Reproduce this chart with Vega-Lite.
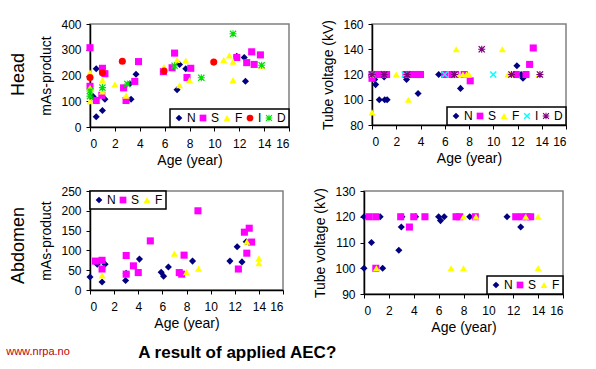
{
  "$schema": "https://vega.github.io/schema/vega-lite/v6.json",
  "padding": {"left": 6, "top": 17, "right": 0, "bottom": 0},
  "background": "white",
  "datasets": {
    "hm": [
      {"series":"N","age":0.25,"value":118},{"series":"N","age":0.5,"value":40},{"series":"N","age":0.5,"value":226},{"series":"N","age":1.0,"value":64},{"series":"N","age":1.2,"value":108},{"series":"N","age":3.2,"value":168},{"series":"N","age":3.3,"value":108},{"series":"N","age":3.7,"value":205},{"series":"N","age":7.0,"value":145},{"series":"N","age":7.2,"value":243},{"series":"N","age":7.7,"value":226},{"series":"N","age":11.8,"value":275},{"series":"N","age":12.4,"value":270},{"series":"N","age":12.5,"value":178},
      {"series":"S","age":0,"value":308},{"series":"S","age":0,"value":158},{"series":"S","age":0.5,"value":103},{"series":"S","age":0.95,"value":123},{"series":"S","age":1.0,"value":228},{"series":"S","age":1.2,"value":207},{"series":"S","age":2.7,"value":152},{"series":"S","age":2.9,"value":103},{"series":"S","age":3.6,"value":177},{"series":"S","age":3.9,"value":254},{"series":"S","age":5.9,"value":215},{"series":"S","age":6.6,"value":230},{"series":"S","age":6.8,"value":287},{"series":"S","age":7.8,"value":192},{"series":"S","age":8.1,"value":228},{"series":"S","age":11.8,"value":270},{"series":"S","age":12.6,"value":250},{"series":"S","age":13.0,"value":292},{"series":"S","age":13.2,"value":243},{"series":"S","age":13.7,"value":280},
      {"series":"F","age":0,"value":211},{"series":"F","age":0,"value":152},{"series":"F","age":0,"value":100},{"series":"F","age":1.0,"value":182},{"series":"F","age":1.0,"value":138},{"series":"F","age":2.0,"value":165},{"series":"F","age":2.9,"value":122},{"series":"F","age":5.95,"value":233},{"series":"F","age":7.0,"value":260},{"series":"F","age":7.2,"value":162},{"series":"F","age":7.7,"value":258},{"series":"F","age":8.0,"value":182},{"series":"F","age":10.75,"value":260},{"series":"F","age":11.2,"value":278},{"series":"F","age":11.5,"value":254},{"series":"F","age":11.5,"value":182},{"series":"F","age":13.8,"value":238},
      {"series":"I","age":0,"value":192},{"series":"I","age":1.0,"value":211},{"series":"I","age":2.6,"value":255},{"series":"I","age":5.95,"value":217},{"series":"I","age":9.95,"value":252},
      {"series":"D","age":0,"value":140},{"series":"D","age":0,"value":120},{"series":"D","age":1.0,"value":153},{"series":"D","age":3.0,"value":167},{"series":"D","age":6.8,"value":238},{"series":"D","age":8.95,"value":191},{"series":"D","age":11.5,"value":362},{"series":"D","age":13.8,"value":240}
    ],
    "hk": [
      {"series":"N","age":0.22,"value":116},{"series":"N","age":0.3,"value":112},{"series":"N","age":0.6,"value":100},{"series":"N","age":1.0,"value":118},{"series":"N","age":1.05,"value":100},{"series":"N","age":1.25,"value":100},{"series":"N","age":2.85,"value":116},{"series":"N","age":3.8,"value":105},{"series":"N","age":5.5,"value":120},{"series":"N","age":7.3,"value":109},{"series":"N","age":11.95,"value":127},{"series":"N","age":12.3,"value":120},{"series":"N","age":12.45,"value":117},
      {"series":"S","age":0,"value":117},{"series":"S","age":0,"value":120},{"series":"S","age":0.3,"value":120},{"series":"S","age":0.6,"value":120},{"series":"S","age":0.9,"value":120},{"series":"S","age":1.2,"value":120},{"series":"S","age":2.8,"value":120},{"series":"S","age":3.05,"value":120},{"series":"S","age":3.3,"value":120},{"series":"S","age":3.6,"value":120},{"series":"S","age":3.85,"value":120},{"series":"S","age":4.0,"value":120},{"series":"S","age":6.0,"value":120},{"series":"S","age":6.6,"value":120},{"series":"S","age":6.9,"value":120},{"series":"S","age":7.6,"value":120},{"series":"S","age":8.1,"value":115},{"series":"S","age":11.9,"value":120},{"series":"S","age":12.7,"value":120},{"series":"S","age":13.0,"value":128},{"series":"S","age":13.3,"value":141},
      {"series":"F","age":0,"value":90},{"series":"F","age":0,"value":120},{"series":"F","age":2.0,"value":120},{"series":"F","age":3.0,"value":100},{"series":"F","age":6.95,"value":140},{"series":"F","age":7.0,"value":120},{"series":"F","age":7.5,"value":120},{"series":"F","age":7.8,"value":120},{"series":"F","age":8.0,"value":120},{"series":"F","age":10.75,"value":140},{"series":"F","age":11.2,"value":120},{"series":"F","age":11.4,"value":120},{"series":"F","age":13.75,"value":120},
      {"series":"I","age":0,"value":120},{"series":"I","age":2.7,"value":120},{"series":"I","age":6.0,"value":120},{"series":"I","age":10.0,"value":120},
      {"series":"D","age":0,"value":120},{"series":"D","age":1.0,"value":120},{"series":"D","age":2.9,"value":120},{"series":"D","age":6.8,"value":120},{"series":"D","age":9.05,"value":140},{"series":"D","age":11.5,"value":120},{"series":"D","age":13.85,"value":120}
    ],
    "am": [
      {"series":"N","age":0,"value":33},{"series":"N","age":0.6,"value":65},{"series":"N","age":1.0,"value":20},{"series":"N","age":1.25,"value":65},{"series":"N","age":2.95,"value":24},{"series":"N","age":3.0,"value":42},{"series":"N","age":4.1,"value":78},{"series":"N","age":5.9,"value":45},{"series":"N","age":6.1,"value":35},{"series":"N","age":6.5,"value":58},{"series":"N","age":8.5,"value":73},{"series":"N","age":11.6,"value":73},{"series":"N","age":12.2,"value":109},{"series":"N","age":12.6,"value":71},{"series":"N","age":12.95,"value":122},
      {"series":"S","age":0.45,"value":73},{"series":"S","age":1.0,"value":75},{"series":"S","age":1.0,"value":53},{"series":"S","age":3.0,"value":87},{"series":"S","age":3.0,"value":40},{"series":"S","age":3.6,"value":61},{"series":"S","age":4.0,"value":44},{"series":"S","age":5.0,"value":124},{"series":"S","age":7.4,"value":44},{"series":"S","age":7.6,"value":40},{"series":"S","age":7.8,"value":88},{"series":"S","age":8.95,"value":200},{"series":"S","age":12.3,"value":53},{"series":"S","age":12.8,"value":146},{"series":"S","age":13.0,"value":93},{"series":"S","age":13.2,"value":156},{"series":"S","age":13.4,"value":121},
      {"series":"F","age":1.0,"value":37},{"series":"F","age":7.0,"value":92},{"series":"F","age":8.0,"value":45},{"series":"F","age":9.0,"value":54},{"series":"F","age":13.0,"value":122},{"series":"F","age":14.0,"value":80},{"series":"F","age":14.0,"value":68}
    ],
    "ak": [
      {"series":"N","age":0,"value":120},{"series":"N","age":0,"value":100},{"series":"N","age":0.6,"value":110},{"series":"N","age":1.3,"value":120},{"series":"N","age":1.5,"value":100},{"series":"N","age":2.8,"value":107},{"series":"N","age":3.0,"value":116},{"series":"N","age":3.05,"value":120},{"series":"N","age":4.15,"value":120},{"series":"N","age":6.0,"value":120},{"series":"N","age":6.15,"value":118.5},{"series":"N","age":6.45,"value":120},{"series":"N","age":8.5,"value":120},{"series":"N","age":11.5,"value":120},{"series":"N","age":12.6,"value":116},
      {"series":"S","age":0.4,"value":120},{"series":"S","age":0.95,"value":120},{"series":"S","age":0.95,"value":100},{"series":"S","age":2.95,"value":120},{"series":"S","age":3.65,"value":116},{"series":"S","age":4.0,"value":120},{"series":"S","age":4.9,"value":120},{"series":"S","age":7.4,"value":120},{"series":"S","age":7.7,"value":120},{"series":"S","age":8.95,"value":120},{"series":"S","age":12.2,"value":120},{"series":"S","age":12.7,"value":120},{"series":"S","age":13.1,"value":120},{"series":"S","age":13.4,"value":120},
      {"series":"F","age":1.0,"value":100},{"series":"F","age":7.0,"value":100},{"series":"F","age":8.0,"value":120},{"series":"F","age":8.0,"value":100},{"series":"F","age":9.0,"value":120},{"series":"F","age":13.0,"value":120},{"series":"F","age":14.0,"value":120},{"series":"F","age":14.0,"value":100}
    ]
  },
  "title": {"text": "www.nrpa.no", "orient": "bottom", "anchor": "start", "frame": "bounds", "fontSize": 11, "fontWeight": "normal", "font": "Liberation Sans", "color": "#C00000", "dx": -4, "dy": -15, "offset": 0},
  "spacing": 16,
  "vconcat": [
    {
      "title": {"text": "Head", "orient": "left", "anchor": "middle", "fontSize": 18, "fontWeight": "normal", "font": "Liberation Sans", "color": "black", "offset": 11, "dx": 18},
      "spacing": 30,
      "hconcat": [
        {
          "data": {"name": "hm"},
          "width": 199, "height": 103,
          "mark": {"type": "point", "filled": true, "size": 50, "opacity": 1},
          "encoding": {
            "x": {"field": "age", "type": "quantitative", "scale": {"domain": [0, 16], "nice": false}, "axis": {"values": [0,2,4,6,8,10,12,14,16], "title": "Age (year)"}},
            "y": {"field": "value", "type": "quantitative", "scale": {"domain": [0, 400], "nice": false}, "axis": {"values": [0,100,200,300,400], "title": "mAs-product"}},
            "color": {"field": "series", "type": "nominal", "scale": {"domain": ["N","S","F","I","D"], "range": ["#000080","#FF00FF","#FFFF00","#FF0000","#00E000"]}, "legend": {"title": null, "orient": "bottom-right", "direction": "horizontal", "offset": 0}},
            "shape": {"field": "series", "type": "nominal", "scale": {"domain": ["N","S","F","I","D"], "range": ["diamond","square","triangle-up","circle","M-1,-0.75L-0.75,-1L0,-0.25L0.75,-1L1,-0.75L0.25,0L1,0.75L0.75,1L0,0.25L-0.75,1L-1,0.75L-0.25,0ZM-0.15,-1L0.15,-1L0.15,-0.15L1,-0.15L1,0.15L0.15,0.15L0.15,1L-0.15,1L-0.15,0.15L-1,0.15L-1,-0.15L-0.15,-0.15Z"]}, "legend": {"title": null, "orient": "bottom-right", "direction": "horizontal", "offset": 0}}
          }
        },
        {
          "data": {"name": "hk"},
          "width": 194, "height": 101,
          "mark": {"type": "point", "filled": true, "size": 50, "opacity": 1},
          "encoding": {
            "x": {"field": "age", "type": "quantitative", "scale": {"domain": [0, 16], "nice": false}, "axis": {"values": [0,2,4,6,8,10,12,14,16], "title": "Age (year)"}},
            "y": {"field": "value", "type": "quantitative", "scale": {"domain": [80, 160], "nice": false, "zero": false}, "axis": {"values": [80,100,120,140,160], "title": "Tube voltage (kV)"}},
            "color": {"field": "series", "type": "nominal", "scale": {"domain": ["N","S","F","I","D"], "range": ["#000080","#FF00FF","#FFFF00","#00FFFF","#800080"]}, "legend": {"title": null, "orient": "bottom-right", "direction": "horizontal", "offset": 0}},
            "shape": {"field": "series", "type": "nominal", "scale": {"domain": ["N","S","F","I","D"], "range": ["diamond","square","triangle-up","M-1,-0.7L-0.7,-1L0,-0.3L0.7,-1L1,-0.7L0.3,0L1,0.7L0.7,1L0,0.3L-0.7,1L-1,0.7L-0.3,0Z","M-1,-0.75L-0.75,-1L0,-0.25L0.75,-1L1,-0.75L0.25,0L1,0.75L0.75,1L0,0.25L-0.75,1L-1,0.75L-0.25,0ZM-0.15,-1L0.15,-1L0.15,-0.15L1,-0.15L1,0.15L0.15,0.15L0.15,1L-0.15,1L-0.15,0.15L-1,0.15L-1,-0.15L-0.15,-0.15Z"]}, "legend": {"title": null, "orient": "bottom-right", "direction": "horizontal", "offset": 0}}
          }
        }
      ],
      "resolve": {"scale": {"color": "independent", "shape": "independent", "x": "independent", "y": "independent"}, "legend": {"color": "independent", "shape": "independent"}}
    },
    {
      "title": {"text": "A result of applied AEC?", "orient": "bottom", "anchor": "start", "frame": "bounds", "fontSize": 17, "fontWeight": "bold", "font": "Liberation Sans", "color": "black", "dx": 128, "dy": 10, "offset": 0},
      "vconcat": [
        {
          "title": {"text": "Abdomen", "orient": "left", "anchor": "middle", "fontSize": 18, "fontWeight": "normal", "font": "Liberation Sans", "color": "black", "offset": 11, "dx": 14},
          "spacing": 28,
          "hconcat": [
            {
              "data": {"name": "am"},
              "width": 193, "height": 99,
              "mark": {"type": "point", "filled": true, "size": 50, "opacity": 1},
              "encoding": {
                "x": {"field": "age", "type": "quantitative", "scale": {"domain": [0, 16], "nice": false}, "axis": {"values": [0,2,4,6,8,10,12,14,16], "title": "Age (year)"}},
                "y": {"field": "value", "type": "quantitative", "scale": {"domain": [0, 250], "nice": false}, "axis": {"values": [0,50,100,150,200,250], "title": "mAs-product"}},
                "color": {"field": "series", "type": "nominal", "scale": {"domain": ["N","S","F"], "range": ["#000080","#FF00FF","#FFFF00"]}, "legend": {"title": null, "orient": "top-left", "direction": "horizontal", "offset": 0}},
                "shape": {"field": "series", "type": "nominal", "scale": {"domain": ["N","S","F"], "range": ["diamond","square","triangle-up"]}, "legend": {"title": null, "orient": "top-left", "direction": "horizontal", "offset": 0}}
              }
            },
            {
              "data": {"name": "ak"},
              "width": 199, "height": 103,
              "mark": {"type": "point", "filled": true, "size": 50, "opacity": 1},
              "encoding": {
                "x": {"field": "age", "type": "quantitative", "scale": {"domain": [0, 16], "nice": false}, "axis": {"values": [0,2,4,6,8,10,12,14,16], "title": "Age (year)"}},
                "y": {"field": "value", "type": "quantitative", "scale": {"domain": [90, 130], "nice": false, "zero": false}, "axis": {"values": [90,100,110,120,130], "title": "Tube voltage (kV)"}},
                "color": {"field": "series", "type": "nominal", "scale": {"domain": ["N","S","F"], "range": ["#000080","#FF00FF","#FFFF00"]}, "legend": {"title": null, "orient": "bottom-right", "direction": "horizontal", "offset": 0}},
                "shape": {"field": "series", "type": "nominal", "scale": {"domain": ["N","S","F"], "range": ["diamond","square","triangle-up"]}, "legend": {"title": null, "orient": "bottom-right", "direction": "horizontal", "offset": 0}}
              }
            }
          ],
          "resolve": {"scale": {"color": "independent", "shape": "independent", "x": "independent", "y": "independent"}, "legend": {"color": "independent", "shape": "independent"}}
        }
      ],
      "resolve": {"scale": {"color": "independent", "shape": "independent", "x": "independent", "y": "independent"}, "legend": {"color": "independent", "shape": "independent"}}
    }
  ],
  "resolve": {"scale": {"color": "independent", "shape": "independent", "x": "independent", "y": "independent"}, "legend": {"color": "independent", "shape": "independent"}},
  "config": {
    "font": "Liberation Sans",
    "view": {"stroke": "#808080", "strokeWidth": 1.5},
    "axis": {"grid": false, "domainColor": "black", "domainWidth": 1.5, "tickColor": "black", "tickWidth": 1, "tickSize": 4, "labelFontSize": 12, "labelColor": "black", "titleFontSize": 14, "titleFontWeight": "normal", "titleColor": "black", "titlePadding": 6},
    "axisX": {"labelPadding": 7, "titlePadding": 4},
    "axisY": {"labelPadding": 5, "titlePadding": 7},
    "legend": {"padding": 3, "strokeColor": "black", "fillColor": "white", "strokeWidth": 1.5, "labelFontSize": 12, "labelColor": "black", "labelOffset": 2, "columnPadding": 1, "symbolSize": 45, "symbolStrokeWidth": 0, "cornerRadius": 0, "rowPadding": 0}
  }
}
